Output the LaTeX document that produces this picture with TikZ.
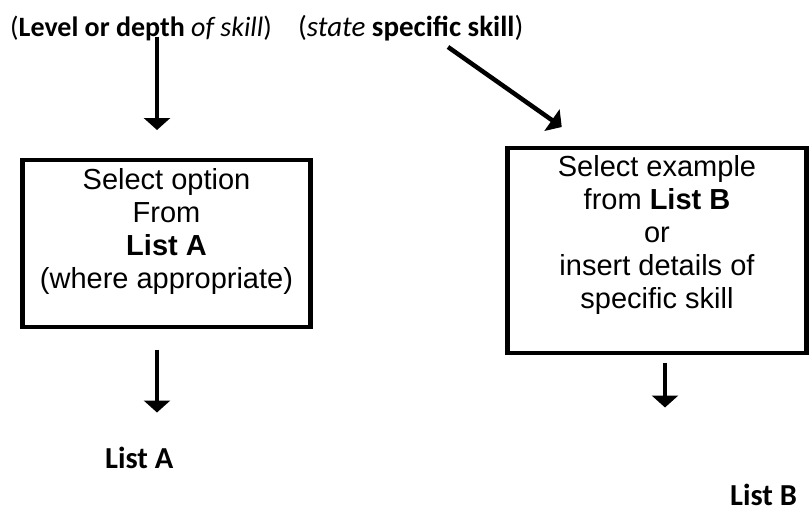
\documentclass[tikz,border=0pt]{standalone}
\usepackage{fontspec}
\setmainfont{Liberation Sans}
\newfontfamily\calib{Carlito}
\usetikzlibrary{arrows.meta}

\begin{document}
\begin{tikzpicture}[x=1pt,y=-1pt,
    box/.style={draw,line width=4.5pt,inner sep=0pt,align=center,font=\fontsize{29}{33}\selectfont},
    lbl/.style={inner sep=0pt,font=\calib\fontsize{28}{32}\selectfont},
    lst/.style={inner sep=0pt,font=\calib\bfseries\fontsize{30.5}{34}\selectfont},
    arr/.style={line width=4.5pt,-{Triangle[width=26pt,length=12pt]}}]
  \useasboundingbox (0,0) rectangle (809,511);
  \node[lbl,anchor=base west] (lvl) at (10,36.7){(\textbf{Level or depth} \textit{of skill})};
  \node[lbl,anchor=base west,font=\calib\fontsize{29}{32}\selectfont] (spec) at (298,36.7){(\textit{state} \textbf{specific skill})};
  \node[box,minimum width=288pt,text height=129.2pt,text depth=37.8pt,anchor=north] (boxA) at (166.5,157.5){Select option\\From\\\textbf{List A}\\(where appropriate)};
  \node[box,minimum width=299pt,text height=161.2pt,text depth=43.8pt,anchor=north] (boxB) at (657,145.5){Select example\\from \textbf{List B}\\or\\insert details of\\specific skill};
  \node[lst,anchor=base west] (listA) at (105,468){List A};
  \node[lst,anchor=base west] (listB) at (730,505){List B};

  \draw[arr] ([xshift=-9.5pt]boxA.north |- lvl.base) -- ([xshift=-9.5pt,yshift=27.5pt]boxA.north);
  \draw[arr] ([shift={(150,10.3)}]spec.base west) -- ([shift={(56.5,-18.5)}]boxB.north west);
  \draw[arr] ([xshift=-9.5pt,yshift=-20.5pt]boxA.south) -- ([xshift=-9.5pt,yshift=-83.5pt]boxA.south);
  \draw[arr] ([xshift=8pt,yshift=-7.5pt]boxB.south) -- ([xshift=8pt,yshift=-52.5pt]boxB.south);
\end{tikzpicture}
\end{document}
